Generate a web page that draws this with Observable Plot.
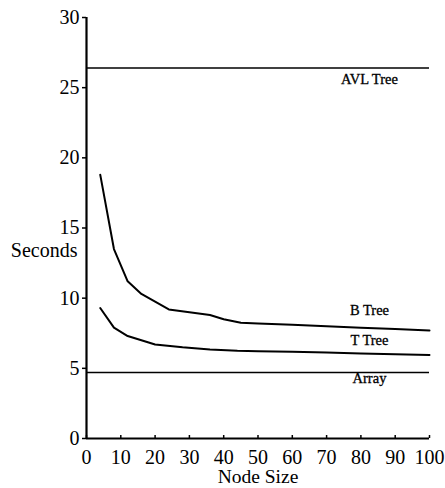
<!DOCTYPE html>
<html><head><meta charset="utf-8">
<script src="https://cdn.jsdelivr.net/npm/d3@7"></script>
<script src="https://cdn.jsdelivr.net/npm/@observablehq/plot@0.6"></script>
<style>body{margin:0;background:#fff}</style>
</head><body><div id="chart"></div>
<script>
// Data
const bTreeNodeSizes = [4, 8, 12, 16, 20, 24, 30, 36, 40, 45, 50, 60, 70, 80, 90, 100];
const bTreeSeconds   = [18.8, 13.5, 11.2, 10.3, 9.75, 9.2, 9.0, 8.8, 8.5, 8.25, 8.2, 8.1, 8.0, 7.9, 7.8, 7.7];
const tTreeNodeSizes = [4, 8, 12, 16, 20, 28, 36, 44, 50, 60, 70, 80, 90, 100];
const tTreeSeconds   = [9.3, 7.9, 7.3, 7.0, 6.7, 6.5, 6.35, 6.25, 6.22, 6.18, 6.12, 6.06, 6.0, 5.95];
const avlTreeSeconds = 26.4;
const arraySeconds   = 4.7;
const seriesNames    = ["AVL Tree", "B Tree", "T Tree", "Array"];
const xTicks = [0, 10, 20, 30, 40, 50, 60, 70, 80, 90, 100];
const yTicks = [0, 5, 10, 15, 20, 25, 30];
const xLabel = "Node Size";
const yLabel = "Seconds";

// Tables built from the arrays
const bTree = bTreeNodeSizes.map((x, i) => ({x, y: bTreeSeconds[i]}));
const tTree = tTreeNodeSizes.map((x, i) => ({x, y: tTreeSeconds[i]}));

// Label placement (style, not data)
const labelAt = 82.5;
const valueAt = (arr) => arr.reduce((a, b) => Math.abs(b.x - labelAt) < Math.abs(a.x - labelAt) ? b : a).y;
const labelY = {
  "AVL Tree": avlTreeSeconds,
  "B Tree": valueAt(bTree),
  "T Tree": valueAt(tTree),
  "Array": arraySeconds
};
const labelDy = {"AVL Tree": 11, "B Tree": -17, "T Tree": -13, "Array": 6};

const font = "'Liberation Serif', 'Times New Roman', serif";

const chart = Plot.plot({
  width: 445,
  height: 488,
  marginLeft: 86,
  marginRight: 16,
  marginTop: 17,
  marginBottom: 50,
  style: {fontFamily: font, fontSize: "20px", background: "white", color: "black"},
  x: {domain: [0, 100]},
  y: {domain: [0, 30]},
  marks: [
    Plot.axisY({ticks: yTicks, tickSize: 4, tickPadding: 3, label: null, fontSize: 20, strokeWidth: 1.5}),
    Plot.axisX({ticks: xTicks, tickSize: -3, tickPadding: 14, label: null, fontSize: 20, strokeWidth: 1.5}),
    Plot.ruleY([avlTreeSeconds], {stroke: "black", strokeWidth: 1.4}),
    Plot.ruleY([arraySeconds], {stroke: "black", strokeWidth: 1.4}),
    Plot.line(bTree, {x: "x", y: "y", stroke: "black", strokeWidth: 2}),
    Plot.line(tTree, {x: "x", y: "y", stroke: "black", strokeWidth: 2}),
    Plot.ruleX([0], {stroke: "black", strokeWidth: 2.2}),
    Plot.ruleY([0], {stroke: "black", strokeWidth: 2.2}),
    ...seriesNames.map(name => Plot.text([name], {
      x: () => labelAt, y: () => labelY[name], text: d => d,
      dy: labelDy[name], fontSize: 14.5, fill: "black", stroke: "black", strokeWidth: 0.3
    })),
    Plot.text([yLabel], {frameAnchor: "left", dx: -9, dy: 23, textAnchor: "end", fontSize: 20, text: d => d}),
    Plot.text([xLabel], {frameAnchor: "bottom", lineAnchor: "middle", dy: 38.5, fontSize: 19.5, text: d => d})
  ]
});
document.getElementById("chart").appendChild(chart);
</script>
</body></html>
